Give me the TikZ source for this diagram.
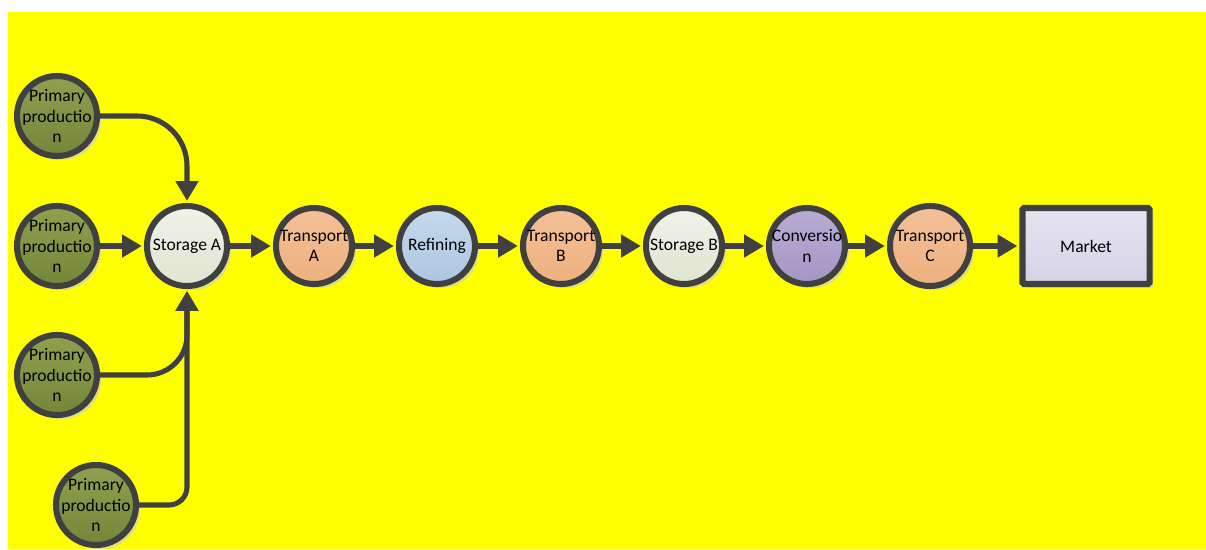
\documentclass[tikz,border=0pt]{standalone}
\usepackage{fontspec}
\setmainfont{Carlito}
\usetikzlibrary{arrows.meta, shadows}

\definecolor{bgyellow}{RGB}{255,255,0}
\definecolor{edgegray}{RGB}{64,64,64}
\definecolor{shadowyel}{RGB}{224,224,120}
\definecolor{ppTop}{RGB}{144,160,80}
\definecolor{ppBot}{RGB}{116,134,56}
\definecolor{stTop}{RGB}{240,242,232}
\definecolor{stBot}{RGB}{224,228,208}
\definecolor{trTop}{RGB}{244,192,152}
\definecolor{trBot}{RGB}{238,176,126}
\definecolor{rfTop}{RGB}{198,216,236}
\definecolor{rfBot}{RGB}{172,198,224}
\definecolor{cvTop}{RGB}{184,172,212}
\definecolor{cvBot}{RGB}{164,150,196}
\definecolor{mkTop}{RGB}{230,228,240}
\definecolor{mkBot}{RGB}{214,210,230}

\begin{document}
\begin{tikzpicture}[x=0.025cm, y=-0.025cm, >={Triangle[length=14pt, width=15.5pt]},
  stage/.style={circle, draw=edgegray, line width=4.3pt, minimum size=1.9cm, inner sep=-5pt,
    align=center, font=\fontsize{12.5}{14.5}\selectfont,
    drop shadow={shadow xshift=3pt, shadow yshift=-3pt, fill=shadowyel, opacity=1}},
  prim/.style={stage, minimum size=2cm, top color=ppTop, bottom color=ppBot},
  store/.style={stage, top color=stTop, bottom color=stBot},
  trans/.style={stage, top color=trTop, bottom color=trBot},
  flow/.style={->, draw=edgegray, line width=3.6pt, shorten >=1.5pt}]

% page and background
\fill[white] (0,0) rectangle (1206,549);
\fill[bgyellow] (8,12) rectangle (1206,549);

\node (pp1) at (57,116)  [prim] {Primary\\productio\\n};
\node (pp2) at (57,246)  [prim] {Primary\\productio\\n};
\node (pp3) at (57,375)  [prim] {Primary\\productio\\n};
\node (pp4) at (96,505)  [prim] {Primary\\productio\\n};

\node (sa)  at (187,246) [store, minimum size=2cm] {Storage A};
\node (ta)  at (314,246) [trans] {Transport\\A};
\node (rf)  at (437,246) [stage, top color=rfTop, bottom color=rfBot] {Refining};
\node (tb)  at (561,246) [trans] {Transport\\B};
\node (sb)  at (684,246) [store] {Storage B};
\node (cv)  at (807,246) [stage, top color=cvTop, bottom color=cvBot] {Conversio\\n};
\node (tc)  at (930,246) [trans, minimum size=2cm] {Transport\\C};

\node (mk)  at (1086,246) [rectangle, draw=edgegray, line width=4.3pt, rounded corners=1pt,
  minimum width=3.175cm, minimum height=1.9cm, top color=mkTop, bottom color=mkBot,
  font=\fontsize{12.5}{14.5}\selectfont,
  drop shadow={shadow xshift=3pt, shadow yshift=-3pt, fill=shadowyel, opacity=1}] {Market};

% inputs to storage A
\draw[flow, rounded corners=1.25cm] (pp1.east) -| (sa.north);
\draw[flow] (pp2.east) -- (sa.west);
\draw[flow, rounded corners=1cm] (pp3.east) -| (sa.south);
\draw[flow, rounded corners=0.45cm] (pp4.east) -| (sa.south);

% main chain
\draw[flow] (sa.east) -- (ta.west);
\draw[flow] (ta.east) -- (rf.west);
\draw[flow] (rf.east) -- (tb.west);
\draw[flow] (tb.east) -- (sb.west);
\draw[flow] (sb.east) -- (cv.west);
\draw[flow] (cv.east) -- (tc.west);
\draw[flow] (tc.east) -- (mk.west);

\end{tikzpicture}
\end{document}
